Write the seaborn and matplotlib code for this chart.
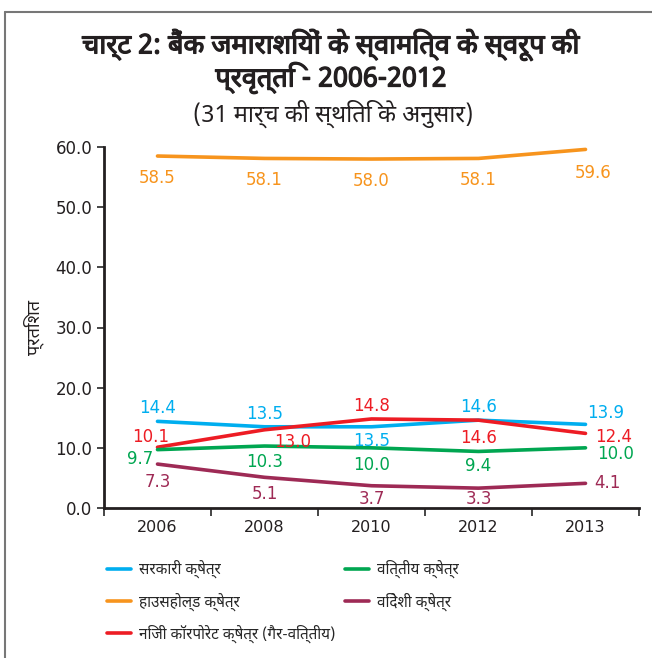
import pandas as pd
import matplotlib.pyplot as plt
import seaborn as sns
from matplotlib.lines import Line2D
import matplotlib.patheffects as pe

# Chart data
years = ['2006', '2008', '2010', '2012', '2013']
sarkari = [14.4, 13.5, 13.5, 14.6, 13.9]
household = [58.5, 58.1, 58.0, 58.1, 59.6]
nigam = [10.1, 13.0, 14.8, 14.6, 12.4]
vittiya = [9.7, 10.3, 10.0, 9.4, 10.0]
videshi = [7.3, 5.1, 3.7, 3.3, 4.1]

series_names = ['सरकारी क्षेत्र', 'हाउसहोल्ड क्षेत्र', 'निजी कॉरपोरेट क्षेत्र (गैर-वित्तीय)',
                'वित्तीय क्षेत्र', 'विदेशी क्षेत्र']
series_values = [sarkari, household, nigam, vittiya, videshi]
colors = ['#00AEEF', '#F7941D', '#ED1C24', '#00A651', '#9E2A55']

# label offsets in pixels (dx, dy) per series / point
offsets = [
    [(0, 13), (0, 13), (0, -14), (0, 13), (20, 11)],
    [(0, -22), (0, -22), (0, -22), (0, -22), (8, -24)],
    [(-7, 10), (28, -12), (0, 13), (0, -18), (28, -4)],
    [(-17, -9), (0, -16), (0, -17), (0, -15), (30, -6)],
    [(0, -18), (0, -17), (0, -13), (0, -11), (22, 0)],
]

rows = []
for name, vals in zip(series_names, series_values):
    for i, (yr, v) in enumerate(zip(years, vals)):
        rows.append({'x': i, 'Year': yr, 'Value': v, 'Series': name})
df = pd.DataFrame(rows)

sns.set_style('ticks')
plt.rcParams['font.family'] = ['Noto Sans Devanagari', 'DejaVu Sans']

fig = plt.figure(figsize=(6.52, 6.58), dpi=100)
ax = fig.add_axes([104 / 652, 1 - 508 / 658, (639 - 104) / 652, (508 - 147) / 658])

sns.lineplot(data=df, x='x', y='Value', hue='Series', hue_order=series_names,
             palette=colors, linewidth=2.6, ax=ax, legend=True)

# data labels
for name, vals, col, offs in zip(series_names, series_values, colors, offsets):
    for i, v in enumerate(vals):
        ax.annotate(f'{v:.1f}', (i, v), xytext=offs[i], textcoords='offset pixels',
                    ha='center', va='center', color=col, fontsize=12,
                    family=['DejaVu Sans'])

ax.set_xlim(-0.5, 4.5)
ax.set_ylim(0, 60)
ax.set_xticks(range(len(years)))
ax.set_xticklabels(years)
ax.set_xticks([i - 0.5 for i in range(len(years) + 1)], minor=True)
ax.tick_params(axis='x', which='major', length=0, pad=9, labelsize=11.5)
ax.tick_params(axis='x', which='minor', length=6, width=1.2, direction='out')
ax.set_yticks(range(0, 61, 10))
ax.set_yticklabels([f'{t:.1f}' for t in range(0, 61, 10)])
ax.tick_params(axis='y', length=5, width=1.2, labelsize=12)
for lbl in ax.get_xticklabels() + ax.get_yticklabels():
    lbl.set_family(['DejaVu Sans'])
    lbl.set_color('#231F20')
ax.set_xlabel('')
ax.set_ylabel('प्रतिशत', fontsize=13, color='#231F20', labelpad=8)
sns.despine(ax=ax)
for sp in ['left', 'bottom']:
    ax.spines[sp].set_linewidth(2)
    ax.spines[sp].set_color('#231F20')

# legend below the plot, two separate columns
handles, labels = ax.get_legend_handles_labels()
ax.get_legend().remove()
leg_kw = dict(loc='upper left', frameon=False, fontsize=11, handlelength=1.6,
              labelspacing=0.9, handletextpad=0.5, borderpad=0, borderaxespad=0,
              bbox_transform=fig.transFigure)
leg1 = ax.legend(handles[:3], labels[:3], bbox_to_anchor=(107 / 652, 1 - 560 / 658), **leg_kw)
ax.add_artist(leg1)
ax.legend(handles[3:], labels[3:], bbox_to_anchor=(345 / 652, 1 - 560 / 658), **leg_kw)

# titles
bold = [pe.withStroke(linewidth=0.9, foreground='#231F20')]
fig.text(331 / 652, 1 - 45 / 658, 'चार्ट 2: बैंक जमाराशियों के स्वामित्व के स्वरूप की',
         ha='center', va='center', fontsize=19.5, color='#231F20', path_effects=bold)
fig.text(331 / 652, 1 - 78 / 658, 'प्रवृत्ति - 2006-2012',
         ha='center', va='center', fontsize=19.5, color='#231F20', path_effects=bold)
fig.text(333 / 652, 1 - 114 / 658, '(31 मार्च की स्थिति के अनुसार)',
         ha='center', va='center', fontsize=17, color='#231F20')

# frame lines at top and left
fig.add_artist(Line2D([5 / 652, 5 / 652], [0, 1 - 12 / 658], color='#777777', lw=1.5,
                      transform=fig.transFigure))
fig.add_artist(Line2D([5 / 652, 1], [1 - 12 / 658, 1 - 12 / 658], color='#777777', lw=1.5,
                      transform=fig.transFigure))

plt.savefig('out.png', dpi=100)
